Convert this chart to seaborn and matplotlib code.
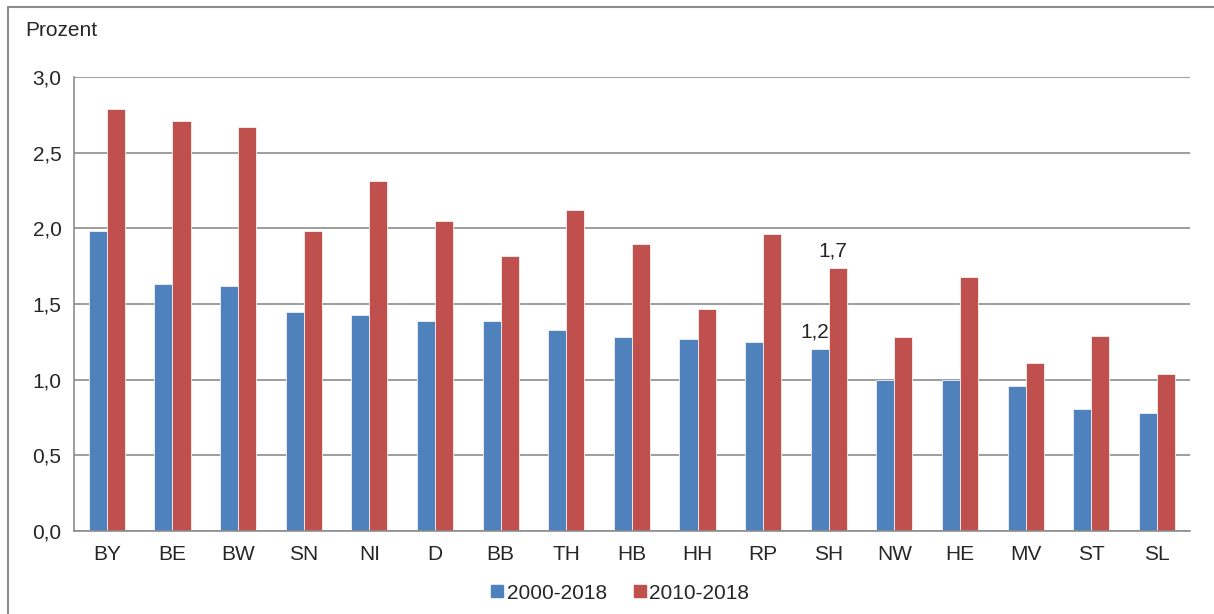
import pandas as pd
import seaborn as sns
import matplotlib.pyplot as plt
from matplotlib.lines import Line2D
from matplotlib.ticker import FixedLocator, FuncFormatter

# data
laender = ['BY', 'BE', 'BW', 'SN', 'NI', 'D', 'BB', 'TH', 'HB', 'HH',
           'RP', 'SH', 'NW', 'HE', 'MV', 'ST', 'SL']
p_2000_2018 = [1.98, 1.63, 1.62, 1.45, 1.43, 1.39, 1.39, 1.33, 1.28, 1.27,
               1.25, 1.20, 1.00, 1.00, 0.96, 0.81, 0.78]
p_2010_2018 = [2.79, 2.71, 2.67, 1.98, 2.31, 2.05, 1.82, 2.12, 1.90, 1.47,
               1.96, 1.74, 1.28, 1.68, 1.11, 1.29, 1.04]
series = ['2000-2018', '2010-2018']
colors = ['#4F81BD', '#C0504D']

df = pd.DataFrame({
    'Land': laender * 2,
    'Zeitraum': [series[0]] * len(laender) + [series[1]] * len(laender),
    'Prozent': p_2000_2018 + p_2010_2018,
})

sns.set_style('white')
plt.rcParams['font.family'] = ['Liberation Sans', 'DejaVu Sans']
fs = 15

fig = plt.figure(figsize=(12.14, 6.14), dpi=100)
ax = fig.add_axes([0.061, 0.135, 0.919, 0.7395])

sns.barplot(data=df, x='Land', y='Prozent', hue='Zeitraum', palette=colors,
            width=0.55, saturation=1, edgecolor='#f2f2f2', linewidth=0.6,
            ax=ax, legend=False)

ax.set_ylim(0, 3.0)
ax.set_xlim(-0.5, len(laender) - 0.5)
ax.set_yticks([0, 0.5, 1.0, 1.5, 2.0, 2.5, 3.0])
ax.yaxis.set_major_formatter(FuncFormatter(lambda v, p: f'{v:.1f}'.replace('.', ',')))
ax.yaxis.grid(True, color='#8c8c8c', linewidth=1.2)
ax.set_axisbelow(True)
ax.set_xlabel('')
ax.set_ylabel('')

for s in ['top', 'right']:
    ax.spines[s].set_visible(False)
for s in ['left', 'bottom']:
    ax.spines[s].set_color('#8c8c8c')
    ax.spines[s].set_linewidth(1.2)

ax.tick_params(axis='x', which='major', length=0, pad=10, labelsize=fs)
ax.xaxis.set_minor_locator(FixedLocator([i - 0.5 for i in range(len(laender) + 1)]))
ax.tick_params(axis='x', which='minor', length=5, width=1.2, color='#8c8c8c')
ax.tick_params(axis='y', length=5, width=1.2, color='#8c8c8c', labelsize=fs, pad=4)

# value labels on SH
i = laender.index('SH')
for cont, vals in zip(ax.containers, [p_2000_2018, p_2010_2018]):
    bar = cont[i]
    ax.text(bar.get_x() + bar.get_width() / 2 - 0.08, vals[i] + 0.05,
            f'{vals[i]:.1f}'.replace('.', ','), ha='center', va='bottom', fontsize=fs)

handles = [Line2D([], [], marker='s', linestyle='', markersize=9, color=c) for c in colors]
fig.legend(handles, series, loc='center', bbox_to_anchor=(0.51, 0.034), ncol=2,
           frameon=False, fontsize=fs, handletextpad=0.05, columnspacing=1.2,
           handlelength=0.8)

fig.text(0.021, 0.951, 'Prozent', fontsize=fs, ha='left', va='center')

# outer frame
fig.add_artist(Line2D([8 / 1214, 8 / 1214], [0, 1 - 7 / 614], transform=fig.transFigure,
                      color='#8c8c8c', linewidth=1.5))
fig.add_artist(Line2D([8 / 1214, 1], [1 - 7 / 614, 1 - 7 / 614], transform=fig.transFigure,
                      color='#8c8c8c', linewidth=1.5))

fig.savefig('out.png', dpi=100)
